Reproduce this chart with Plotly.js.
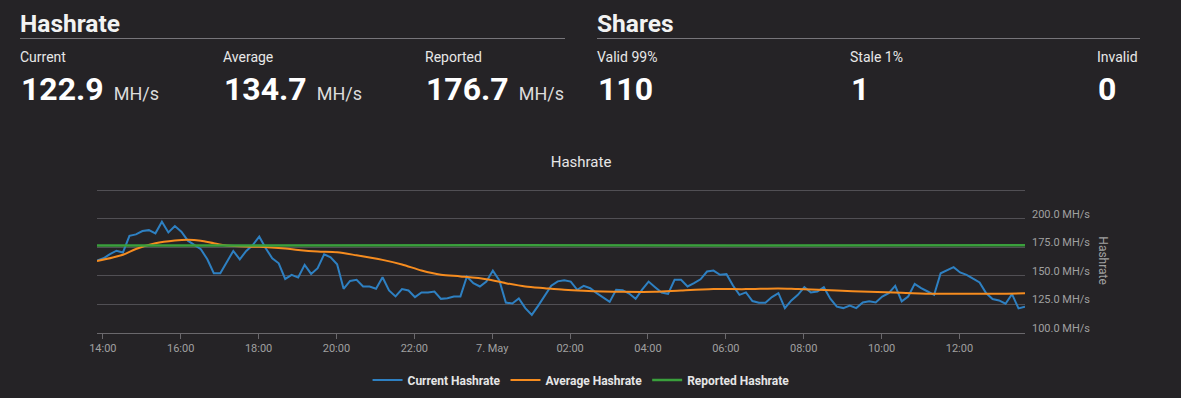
<!DOCTYPE html>
<html>
<head>
<meta charset="utf-8">
<script src="https://cdn.plot.ly/plotly-3.0.1.min.js"></script>
<style>
  html, body { margin:0; padding:0; background:#252326; width:1181px; height:398px; overflow:hidden; font-family: Roboto, "Noto Sans", sans-serif; }
  #chart { position:absolute; left:0; top:0; width:1181px; height:398px; }
  .hdr { position:absolute; color:#f2f2f2; font-weight:700; font-size:24.5px; line-height:24px; white-space:nowrap; }
  .rule { position:absolute; height:1px; background:#77757a; }
  .lbl { position:absolute; color:#e8e8e8; font-size:14px; line-height:14px; white-space:nowrap; }
  .big { position:absolute; color:#ffffff; font-weight:700; font-size:32px; line-height:32px; white-space:nowrap; }
  .unit { font-weight:400; font-size:18px; color:#dcdcdc; margin-left:10px; }
</style>
</head>
<body>
<div id="chart"></div>
<div id="header"></div>
<script>
// ---- Header values ----
const hashLabels = ['Current', 'Average', 'Reported'];
const hashValues = ['122.9', '134.7', '176.7'];
const hashUnit = 'MH/s';
const shareLabels = ['Valid 99%', 'Stale 1%', 'Invalid'];
const shareValues = ['110', '1', '0'];

// ---- Chart data (10-minute samples, starting 6 May 13:51) ----
const startTime = '2021-05-06 13:51';
const currentHashrate = [
  163.3,165.4,169,172,170.5,185,186.3,189.2,190,187.2,
  197.4,188,193.6,188.7,180.8,177,173.3,164.5,152.3,152.3,
  161.6,171.8,164.5,171.8,177,184.3,174.1,165.4,161,147.3,
  150.9,148.5,159.6,151.7,156.7,168.8,166.3,160.2,138.7,145.6,
  146.5,140.7,140.7,138.7,148.8,137.2,132,138.4,137.2,131.4,
  135.5,135.5,136.3,129.9,130.5,132,132,149.4,143.6,140.7,
  145,154.6,146,126.7,125.8,130.2,121.8,115.8,124,132.2,
  141.4,145.2,146.2,145,137.8,141.3,139.2,134.9,131.4,127.2,
  137.8,137.5,134.5,130,138,145,140.1,135.4,134.3,146.5,
  146.5,140.7,143.6,147,153.8,154.6,150.9,151.5,141.5,133.4,
  135.5,128,126.5,126.5,131.4,134.9,121.8,128.5,133.4,140.1,
  135.5,136.3,140.1,130,123,121.8,124,121.8,126.7,127.7,
  126.7,131.9,134.9,141.3,127.7,131.9,143,139.2,136.3,133.4,
  152.3,154.6,157.6,153,150.9,147.5,144.3,134.9,129.7,128.5,
  125.6,134,121.5,122.9
];
const averageTimes = [
  '2021-05-06 13:51','2021-05-06 14:31','2021-05-06 14:51','2021-05-06 15:21','2021-05-06 15:51',
  '2021-05-06 16:11','2021-05-06 16:31','2021-05-06 16:51','2021-05-06 17:11','2021-05-06 17:41',
  '2021-05-06 18:01','2021-05-06 18:41','2021-05-06 19:01','2021-05-06 19:31','2021-05-06 20:01',
  '2021-05-06 20:31','2021-05-06 21:11','2021-05-06 21:41','2021-05-06 22:11','2021-05-06 22:41',
  '2021-05-06 23:11','2021-05-06 23:51','2021-05-07 00:21','2021-05-07 00:51','2021-05-07 01:21',
  '2021-05-07 01:51','2021-05-07 02:21','2021-05-07 02:51','2021-05-07 03:21','2021-05-07 04:11',
  '2021-05-07 04:51','2021-05-07 05:41','2021-05-07 06:31','2021-05-07 07:21','2021-05-07 07:51',
  '2021-05-07 08:51','2021-05-07 09:41','2021-05-07 10:31','2021-05-07 11:21','2021-05-07 12:11',
  '2021-05-07 13:01','2021-05-07 13:41'
];
const averageHashrate = [
  163,168.5,173.5,178.5,181,181.7,180.8,178.5,176.5,175.6,
  175.5,174,172.7,171.3,170.6,168,164,160,154.7,151,
  149.5,147.1,143.6,140.7,139.2,137.8,136.9,136.3,136,136,
  137.2,138.4,138.4,139,138.4,137.2,136,135.2,134.3,134.3,
  134.3,134.7
];
const reportedTimes = ['2021-05-06 13:51','2021-05-06 18:01','2021-05-07 00:01','2021-05-07 06:01','2021-05-07 13:41'];
const reportedHashrate = [176.5, 176.7, 176.8, 176.6, 176.7];

const xTickVals = ['2021-05-06 14:00','2021-05-06 16:00','2021-05-06 18:00','2021-05-06 20:00','2021-05-06 22:00',
  '2021-05-07 00:00','2021-05-07 02:00','2021-05-07 04:00','2021-05-07 06:00','2021-05-07 08:00',
  '2021-05-07 10:00','2021-05-07 12:00'];
const xTickText = ['14:00','16:00','18:00','20:00','22:00','7. May','02:00','04:00','06:00','08:00','10:00','12:00'];
const yTickVals = [100, 125, 150, 175, 200, 225];
const yTickText = ['100.0 MH/s','125.0 MH/s','150.0 MH/s','175.0 MH/s','200.0 MH/s',' '];

// ---- build timestamps ----
function pad(n){ return (n < 10 ? '0' : '') + n; }
function stamps(start, count, stepMin) {
  const out = [];
  const [d, t] = start.split(' ');
  const [Y, M, D] = d.split('-').map(Number);
  const [h, m] = t.split(':').map(Number);
  const base = h * 60 + m;
  for (let i = 0; i < count; i++) {
    const tot = base + i * stepMin;
    const day = D + Math.floor(tot / 1440);
    const mm = tot % 1440;
    out.push(Y + '-' + pad(M) + '-' + pad(day) + ' ' + pad(Math.floor(mm / 60)) + ':' + pad(mm % 60));
  }
  return out;
}
const times = stamps(startTime, currentHashrate.length, 10);

// ---- header ----
const hdr = document.getElementById('header');
function add(cls, left, top, html, width) {
  const e = document.createElement('div');
  e.className = cls; e.style.left = left + 'px'; e.style.top = top + 'px';
  if (width) e.style.width = width + 'px';
  e.innerHTML = html; hdr.appendChild(e); return e;
}
add('hdr', 20, 11.5, 'Hashrate');
add('rule', 20, 38, '', 545);
add('hdr', 597, 11.5, 'Shares');
add('rule', 597, 38, '', 543);
const hashX = [20, 223, 425];
hashLabels.forEach((l, i) => {
  add('lbl', hashX[i], 49.5, l);
  add('big', hashX[i] + 1, 72.5, hashValues[i] + '<span class="unit">' + hashUnit + '</span>');
});
const shareX = [597, 850, 1097];
shareLabels.forEach((l, i) => {
  add('lbl', shareX[i], 49.5, l);
  add('big', shareX[i] + 1, 72.5, shareValues[i]);
});

// ---- chart ----
const bg = '#252326';
const traces = [
  { x: times, y: currentHashrate, name: 'Current Hashrate', type: 'scatter', mode: 'lines',
    line: { color: '#2e80c2', width: 2 }, hoverinfo: 'skip' },
  { x: averageTimes, y: averageHashrate, name: 'Average Hashrate', type: 'scatter', mode: 'lines',
    line: { color: '#f68c1f', width: 2, shape: 'spline', smoothing: 0.8 }, hoverinfo: 'skip' },
  { x: reportedTimes, y: reportedHashrate, name: 'Reported Hashrate', type: 'scatter', mode: 'lines',
    line: { color: '#3a9f3c', width: 2.5 }, hoverinfo: 'skip' }
];
const layout = {
  width: 1181, height: 398,
  margin: { l: 97, r: 156, t: 189, b: 65, pad: 0 },
  paper_bgcolor: bg, plot_bgcolor: bg,
  font: { family: 'Roboto, sans-serif', color: '#a0a0a0' },
  title: { text: 'Hashrate', font: { size: 15, color: '#e6e6e6' },
           xref: 'container', x: 0.492, xanchor: 'center', yref: 'container', y: 0.593, yanchor: 'middle' },
  showlegend: true,
  legend: { orientation: 'h', xref: 'container', x: 0.492, xanchor: 'center', yref: 'container', y: 0.045, yanchor: 'middle',
            font: { size: 12, color: '#e6e6e6', weight: 700 }, bgcolor: 'rgba(0,0,0,0)', itemwidth: 30 },
  xaxis: { type: 'date', range: [times[0], times[times.length - 1]], tickmode: 'array', tickvals: xTickVals, ticktext: xTickText,
           ticks: 'outside', ticklen: 5, tickcolor: '#6a686c', showline: true, linecolor: '#6a686c', linewidth: 1,
           showgrid: false, zeroline: false, tickfont: { size: 11, color: '#a0a0a0' }, fixedrange: true },
  yaxis: { side: 'right', range: [100, 226], tickmode: 'array', tickvals: yTickVals, ticktext: yTickText,
           showgrid: true, gridcolor: '#514f54', gridwidth: 1, zeroline: false, ticks: '', showline: false,
           tickfont: { size: 11, color: '#a0a0a0' }, ticklabelshift: -5, ticklabelstandoff: 6, fixedrange: true },
  annotations: [{ text: 'Hashrate', textangle: 90, xref: 'paper', yref: 'paper', x: 1.0837, y: 0.5,
                  xanchor: 'center', yanchor: 'middle', showarrow: false, font: { size: 12, color: '#a0a0a0' } }]
};
Plotly.newPlot('chart', traces, layout, { displayModeBar: false, staticPlot: true });
</script>
</body>
</html>
